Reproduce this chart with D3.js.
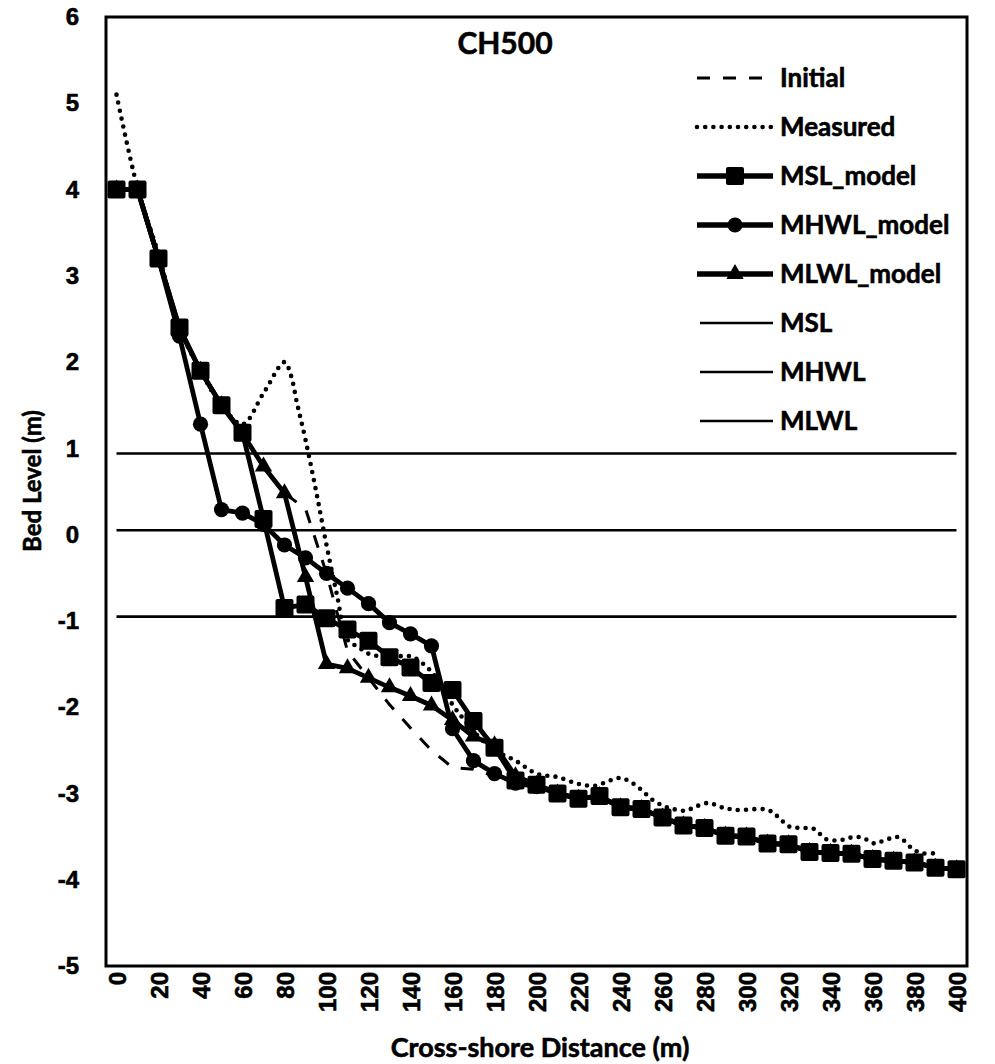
<!DOCTYPE html>
<html>
<head>
<meta charset="utf-8">
<script src="https://cdn.jsdelivr.net/npm/d3@7"></script>
<style>
  html, body { margin: 0; padding: 0; background: #fff; }
  svg { display: block; font-family: Lato, "Open Sans", sans-serif; font-weight: 700; }
  svg text { fill: #000; stroke: #000; stroke-width: 0.6px; }
</style>
</head>
<body>
<svg id="chart" width="995" height="1064"></svg>
<script>
// ---- Profile CH500: bed levels along the cross-shore line ----

// Model stations (m)
const distance = [0, 10, 20, 30, 40, 50, 60, 70, 80, 90, 100, 110, 120, 130, 140, 150, 160, 170, 180, 190,
                  200, 210, 220, 230, 240, 250, 260, 270, 280, 290, 300, 310, 320, 330, 340, 350, 360, 370, 380, 390, 400];

// Initial bed profile (m)
const initialLevel = [4.0, 4.0, 3.2, 2.4, 1.9, 1.5, 1.17, 0.79, 0.48, 0.3, -0.45, -1.35, -1.66, -1.97, -2.24, -2.5, -2.7, -2.72, -2.8, -2.88,
                      -2.92, -3.0, -3.06, -3.03, -3.16, -3.18, -3.28, -3.37, -3.4, -3.49, -3.5, -3.58, -3.59, -3.68, -3.69, -3.7, -3.76, -3.78, -3.8, -3.86, -3.88];

// Modelled bed level with mean sea level (m)
const mslModel = [4.0, 4.0, 3.2, 2.4, 1.9, 1.5, 1.18, 0.18, -0.85, -0.81, -0.97, -1.1, -1.23, -1.42, -1.54, -1.72, -1.8, -2.16, -2.47, -2.85,
                  -2.9, -3.0, -3.06, -3.03, -3.16, -3.18, -3.28, -3.37, -3.4, -3.49, -3.5, -3.58, -3.59, -3.68, -3.69, -3.7, -3.76, -3.78, -3.8, -3.86, -3.88];

// Modelled bed level with mean high water level (m)
const mhwlModel = [4.0, 4.0, 3.2, 2.3, 1.28, 0.29, 0.25, 0.12, -0.12, -0.27, -0.45, -0.62, -0.8, -1.02, -1.15, -1.29, -2.25, -2.62, -2.77, -2.88,
                   -2.92, -3.0, -3.06, -3.03, -3.16, -3.18, -3.28, -3.37, -3.4, -3.49, -3.5, -3.58, -3.59, -3.68, -3.69, -3.7, -3.76, -3.78, -3.8, -3.86, -3.88];

// Modelled bed level with mean low water level (m)
const mlwlModel = [4.0, 4.0, 3.2, 2.38, 1.9, 1.5, 1.17, 0.79, 0.48, -0.49, -1.5, -1.55, -1.66, -1.77, -1.87, -1.98, -2.15, -2.34, -2.44, -2.8,
                   -2.9, -3.0, -3.06, -3.03, -3.16, -3.18, -3.28, -3.37, -3.4, -3.49, -3.5, -3.58, -3.59, -3.68, -3.69, -3.7, -3.76, -3.78, -3.8, -3.86, -3.88];

// Surveyed profile: chainage (m) and bed level (m)
const measuredDistance = [0, 10, 20, 30, 40, 50, 60, 70, 80, 83, 86, 90, 95, 100, 105, 110, 115, 120, 130, 140,
                          148, 155, 160, 165, 170, 180, 190, 200, 210, 220, 228, 235, 240, 245, 250, 255, 260, 265, 271, 276,
                          282, 288, 295, 310, 315, 320, 325, 332, 338, 345, 350, 355, 361, 365, 370, 373, 378, 383, 391];
const measuredLevel = [5.1, 4.02, 3.25, 2.4, 1.9, 1.5, 1.28, 1.64, 2.0, 1.85, 1.52, 1.1, 0.51, -0.12, -0.7, -1.22, -1.3, -1.38, -1.42, -1.41,
                       -1.54, -1.75, -1.97, -2.13, -2.28, -2.5, -2.62, -2.77, -2.81, -2.89, -2.91, -2.85, -2.82, -2.87, -2.96, -3.07, -3.14, -3.18, -3.2, -3.15,
                       -3.11, -3.16, -3.19, -3.19, -3.27, -3.38, -3.4, -3.41, -3.53, -3.54, -3.51, -3.51, -3.58, -3.55, -3.51, -3.51, -3.62, -3.69, -3.69];

// Tidal datum levels (m)
const datumNames = ["MSL", "MHWL", "MLWL"];
const datumLevels = [0.05, 0.94, -0.95];

// Axis ticks
const xTicks = [0, 20, 40, 60, 80, 100, 120, 140, 160, 180, 200, 220, 240, 260, 280, 300, 320, 340, 360, 380, 400];
const yTicks = [-5, -4, -3, -2, -1, 0, 1, 2, 3, 4, 5, 6];

// Legend entries, in drawing order
const legendNames = ["Initial", "Measured", "MSL_model", "MHWL_model", "MLWL_model", "MSL", "MHWL", "MLWL"];

// ---- layout ----
const svg = d3.select("#chart");
const plot = { left: 106, right: 967, top: 17, bottom: 966 };

const x = d3.scaleLinear().domain([-5, 405]).range([plot.left, plot.right]);
const y = d3.scaleLinear().domain([-5, 6]).range([plot.bottom, plot.top]);

const line = d3.line().x(d => x(d[0])).y(d => y(d[1]));
const smoothLine = d3.line().x(d => x(d[0])).y(d => y(d[1])).curve(d3.curveCatmullRom.alpha(0.5));

const pairs = (xs, ys) => xs.map((v, i) => [v, ys[i]]);

// series styling
const style = {
  Initial:    { width: 3,   dash: "13 13", cap: "butt" },
  Measured:   { width: 4.6, dash: "0 8.2", cap: "round" },
  MSL_model:  { width: 4.8, marker: "square" },
  MHWL_model: { width: 4.8, marker: "circle" },
  MLWL_model: { width: 4.8, marker: "triangle" },
  MSL:        { width: 2.6 },
  MHWL:       { width: 2.6 },
  MLWL:       { width: 2.6 }
};

function drawMarker(sel, kind) {
  if (kind === "square") {
    sel.append("rect").attr("x", -9).attr("y", -9).attr("width", 18).attr("height", 18)
      .attr("rx", 2).attr("fill", "#000");
  } else if (kind === "circle") {
    sel.append("circle").attr("r", 7.6).attr("fill", "#000");
  } else if (kind === "triangle") {
    sel.append("path").attr("d", d3.symbol(d3.symbolTriangle, 130)()).attr("fill", "#000");
  }
}

const series = [
  { name: "Initial",    pts: pairs(distance, initialLevel), gen: line },
  { name: "Measured",   pts: pairs(measuredDistance, measuredLevel), gen: smoothLine },
  { name: "MSL_model",  pts: pairs(distance, mslModel), gen: line },
  { name: "MHWL_model", pts: pairs(distance, mhwlModel), gen: line },
  { name: "MLWL_model", pts: pairs(distance, mlwlModel), gen: line }
];
datumNames.forEach((n, i) => {
  series.push({ name: n, pts: [[distance[0], datumLevels[i]], [distance[distance.length - 1], datumLevels[i]]], gen: line });
});

const gSeries = svg.append("g");
series.forEach(s => {
  const st = style[s.name];
  gSeries.append("path")
    .attr("d", s.gen(s.pts))
    .attr("fill", "none")
    .attr("stroke", "#000")
    .attr("stroke-width", st.width)
    .attr("stroke-linejoin", "round")
    .attr("stroke-linecap", st.cap || "butt")
    .attr("stroke-dasharray", st.dash || null);
  if (st.marker) {
    gSeries.append("g").selectAll("g").data(s.pts).join("g")
      .attr("transform", d => `translate(${x(d[0])},${y(d[1])})`)
      .each(function () { drawMarker(d3.select(this), st.marker); });
  }
});

// plot frame
svg.append("rect")
  .attr("x", plot.left).attr("y", plot.top)
  .attr("width", plot.right - plot.left).attr("height", plot.bottom - plot.top)
  .attr("fill", "none").attr("stroke", "#000").attr("stroke-width", 3);

// y axis
svg.append("g")
  .attr("transform", `translate(${plot.left},0)`)
  .call(d3.axisLeft(y).tickValues(yTicks).tickSize(0).tickPadding(27).tickFormat(d => String(d)))
  .call(g => g.select(".domain").remove())
  .call(g => g.selectAll("text").attr("font-size", 24).attr("font-family", null).attr("fill", "#000"));

// x axis with vertical labels
svg.append("g")
  .attr("transform", `translate(0,${plot.bottom})`)
  .call(d3.axisBottom(x).tickValues(xTicks).tickSize(0).tickFormat(d => String(d)))
  .call(g => g.select(".domain").remove())
  .call(g => g.selectAll("text")
    .attr("font-size", 24).attr("font-family", null).attr("fill", "#000")
    .attr("transform", "rotate(-90)")
    .attr("text-anchor", "end")
    .attr("x", -6).attr("y", 0).attr("dy", "0.36em"));

// titles
svg.append("text").attr("x", 505).attr("y", 54).attr("text-anchor", "middle")
  .attr("font-size", 30).text("CH500");

svg.append("text").attr("x", 540).attr("y", 1057).attr("text-anchor", "middle")
  .attr("font-size", 27).text("Cross-shore Distance (m)");

svg.append("text")
  .attr("transform", "translate(41,481) rotate(-90)")
  .attr("text-anchor", "middle").attr("font-size", 24)
  .text("Bed Level (m)");

// legend
const legend = svg.append("g").attr("transform", "translate(697,78)");
const item = legend.selectAll("g").data(legendNames).join("g")
  .attr("transform", (d, i) => `translate(0,${i * 49})`);

item.each(function (name) {
  const g = d3.select(this);
  const st = style[name];
  const isDatum = datumNames.includes(name);
  g.append("line")
    .attr("x1", isDatum ? 3 : 0).attr("x2", 76).attr("y1", 0).attr("y2", 0)
    .attr("stroke", "#000")
    .attr("stroke-width", st.marker ? 5.5 : st.width)
    .attr("stroke-linecap", st.cap || "butt")
    .attr("stroke-dasharray", st.dash || null);
  if (st.marker) {
    const m = g.append("g").attr("transform", "translate(38,0)");
    drawMarker(m, st.marker);
  }
  g.append("text").attr("x", 83).attr("y", 0).attr("dy", "0.36em")
    .attr("font-size", 26).text(name);
});
</script>
</body>
</html>
